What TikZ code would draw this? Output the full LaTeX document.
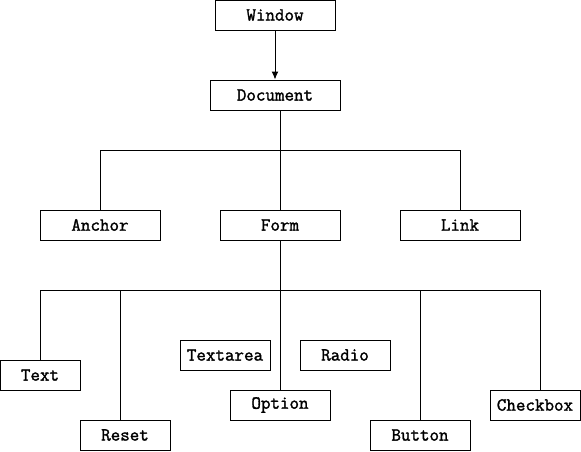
\documentclass[tikz,border=0pt]{standalone}
\usepackage{fontspec}
\newfontfamily\boxfont[FakeBold=1.6]{Latin Modern Mono}
\usepackage{tikz}
\usetikzlibrary{positioning,calc,arrows.meta}

\begin{document}
\begin{tikzpicture}[x=1pt, y=-1pt, line width=1pt, >={Latex[length=8pt,width=7pt]},
      every node/.append style={draw, minimum height=30pt, inner sep=0pt,
        font=\boxfont\fontsize{18.5}{20}\selectfont}]
    \useasboundingbox (0,0) rectangle (581,451);
    \node (window) [minimum width=120pt] at (275,15) {Window};
    \node (document) [minimum width=130pt] at (275,95) {Document};
    \node (anchor) [minimum width=120pt] at (100,225) {Anchor};
    \node (form) [minimum width=120pt] at (280,225) {Form};
    \node (link) [minimum width=120pt] at (460,225) {Link};
    \node (text) [minimum width=80pt] at (40,375) {Text};
    \node (reset) [minimum width=90pt] at (125,435) {Reset};
    \node (textarea) [minimum width=90pt] at (225,355) {Textarea};
    \node (option) [minimum width=100pt] at (280,405) {Option};
    \node (radio) [minimum width=90pt] at (345,355) {Radio};
    \node (button) [minimum width=100pt] at (420,435) {Button};
    \node (checkbox) [minimum width=90pt] at (535,405) {Checkbox};
    \coordinate (top bus) at (280,150);
    \coordinate (form bus) at (280,290);
    \coordinate (reset drop) at (120,290);
    \coordinate (checkbox drop) at (540,290);
    \draw[->] (window) -- (document);
    \draw (document.south -| form) -- (top bus);
    \draw (anchor.north) -- (anchor.north |- top bus) -- (link.north |- top bus) -- (link.north);
    \draw (top bus) -- (form.north);
    \draw (form.south) -- (form bus);
    \draw (text.north) -- (text.north |- form bus) -- (checkbox drop) -- (checkbox drop |- checkbox.north);
    \draw (reset drop) -- (reset drop |- reset.north);
    \draw (form bus) -- (option.north);
    \draw (form bus -| button.north) -- (button.north);
\end{tikzpicture}
\end{document}
